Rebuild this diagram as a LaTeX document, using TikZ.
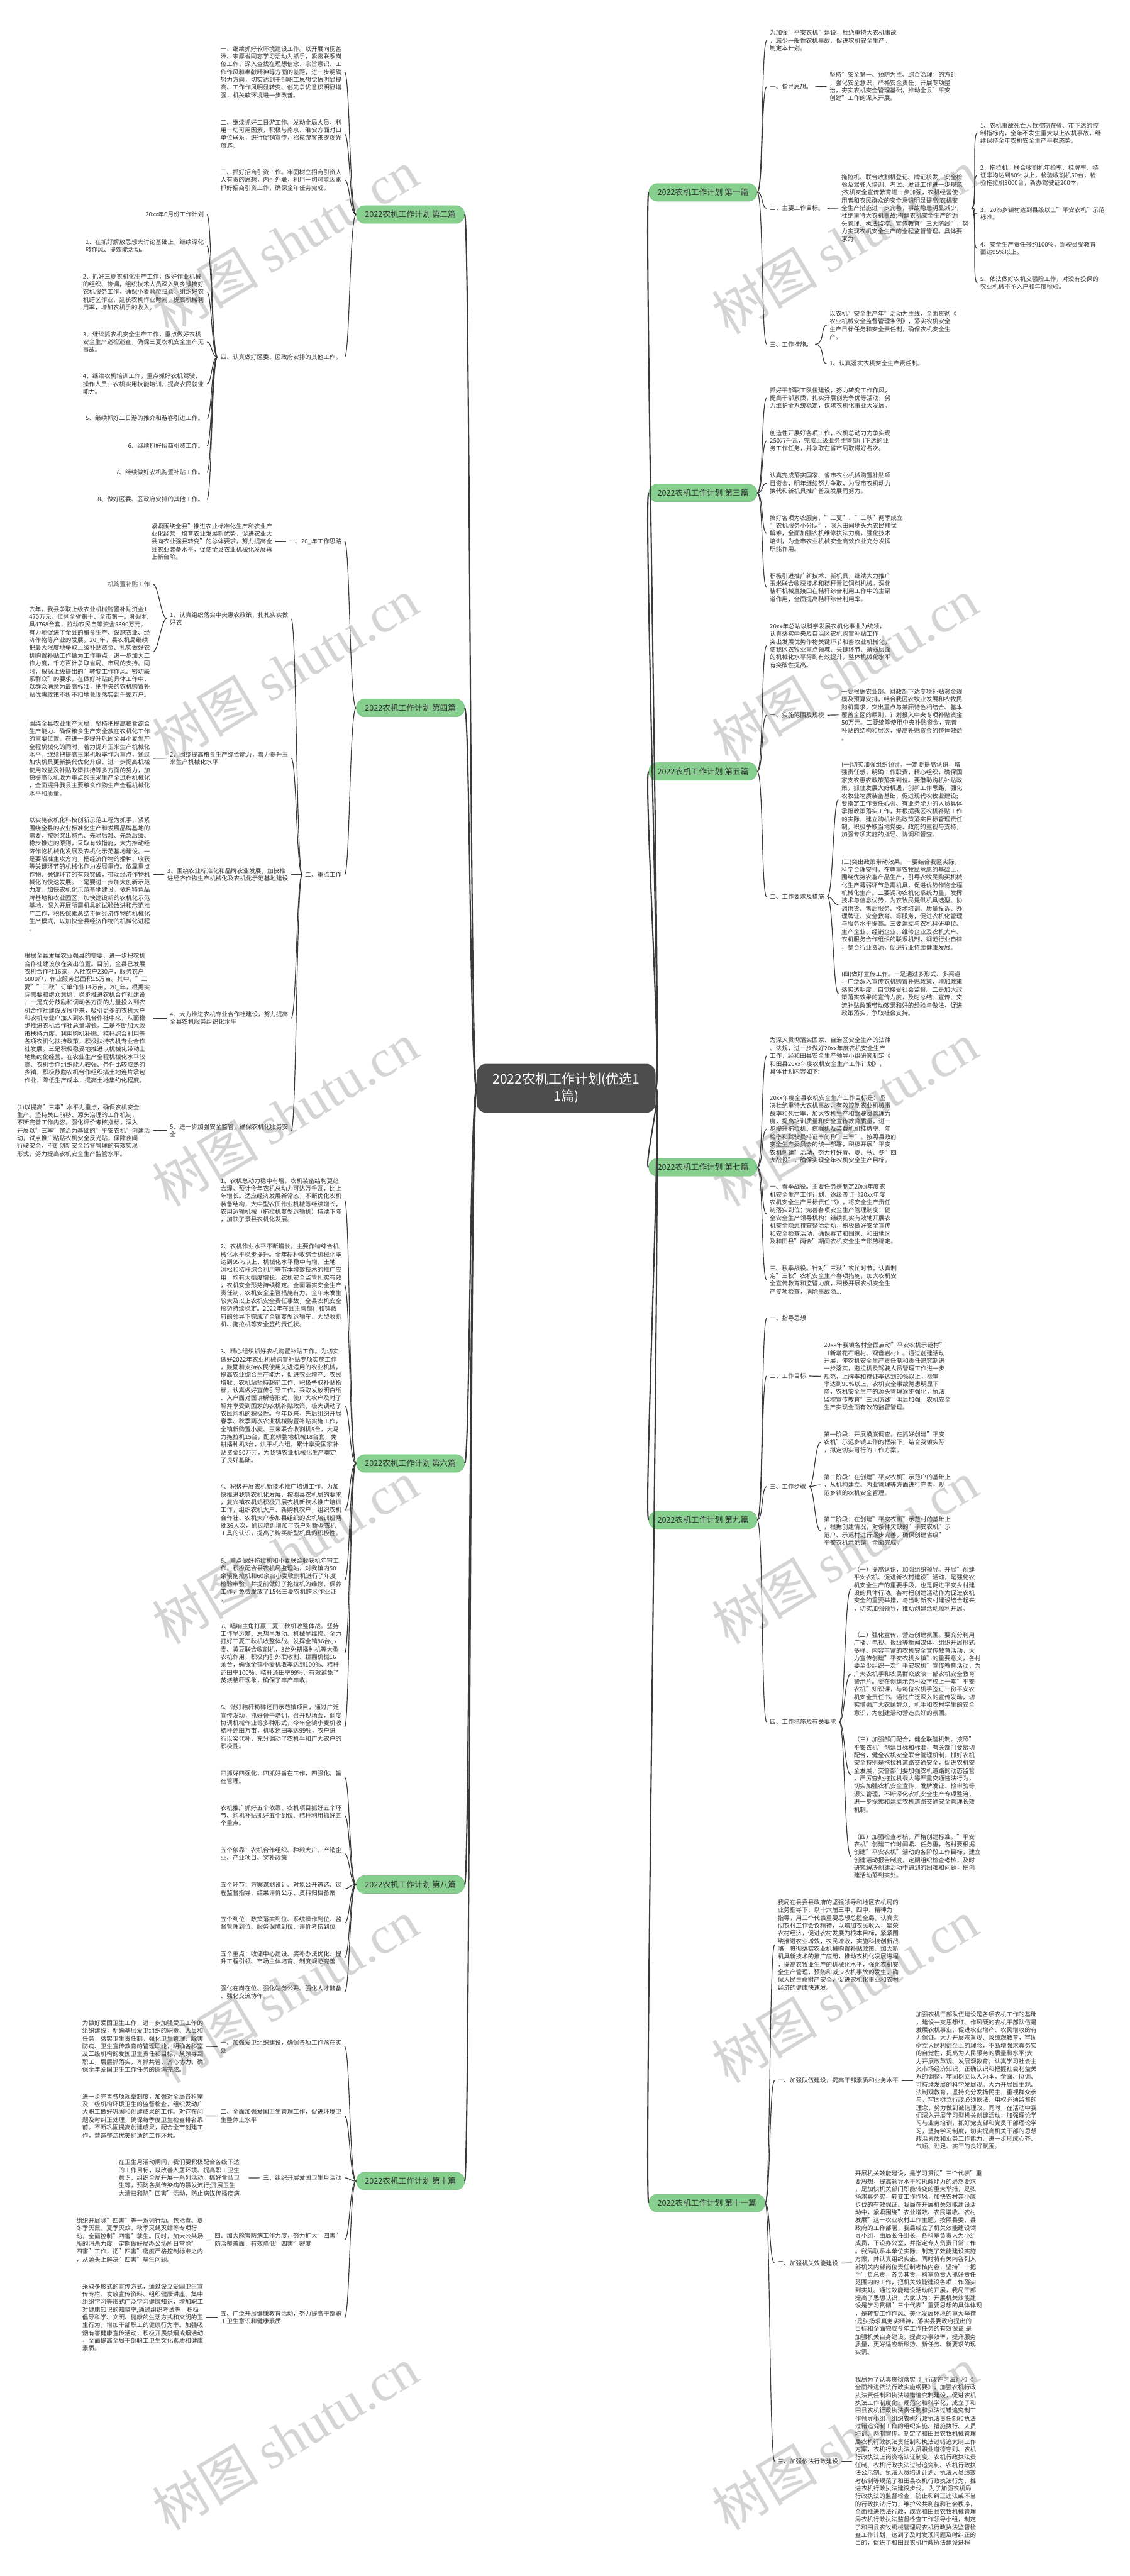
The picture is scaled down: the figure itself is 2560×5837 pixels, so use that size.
\documentclass[tikz,border=0pt]{standalone}
\usepackage{fontspec}
\setmainfont{Noto Sans CJK SC}
\newfontfamily\wmserif{Liberation Serif}
\definecolor{txtc}{HTML}{333333}
\definecolor{brf}{HTML}{86CF8F}
\definecolor{brd}{HTML}{72C07C}
\definecolor{cenf}{HTML}{4D4D4D}
\definecolor{linec}{HTML}{3A3A3A}
\definecolor{wmc}{HTML}{D4D4D4}
\newcommand\fs{\fontsize{13.7}{17.6}\selectfont}
\newcommand\lcon[4]{\draw[conn] (#1.west) .. controls +(-#3,0) and +(#4,0) .. (#2.east);}
\newcommand\rcon[4]{\draw[conn] (#1.east) .. controls +(#3,0) and +(-#4,0) .. (#2.west);}
\tikzset{
  lt/.style={font=\fs, align=left, inner sep=0pt, outer xsep=7pt, outer ysep=0pt, text=txtc},
  ltl/.style={lt, anchor=east},
  ltr/.style={lt, anchor=west},
  br/.style={draw=brd, line width=1pt, fill=brf, rounded corners=19pt, minimum height=40pt, inner xsep=19.5pt, inner ysep=0pt, font=\fontsize{18}{20}\selectfont, text=txtc},
  brl/.style={br, anchor=east},
  brr/.style={br, anchor=west},
  cen/.style={fill=cenf, rounded corners=22pt, text=white, align=center, font=\fontsize{30}{38}\selectfont, inner xsep=36pt, inner ysep=21pt},
  conn/.style={draw=linec, line width=1.7pt},
  mainc/.style={draw=linec, line width=3pt},
  wm/.style={text=wmc, rotate=31, inner sep=0pt, font=\fontsize{120}{120}\selectfont}
}
\begin{document}
\begin{tikzpicture}[x=1pt,y=-1pt]
\fill[white] (0,0) rectangle (2560,5837);
\useasboundingbox (0,0) rectangle (2560,5837);
% watermarks
\foreach \wy [count=\i] in {548,1518,2525,3517,4512,5525}{
  \node[wm] (wmL\i) at (647,\wy) {树图 {\wmserif shutu.cn}};
  \node[wm] (wmR\i) at (1914,\wy) {树图 {\wmserif shutu.cn}};
}
% center
\node[cen] (C) at (1283,2466) {2022农机工作计划(优选1\\1篇)};
% branches
\node[brl] (L2) at (1053,486) {2022农机工作计划 第二篇};
\node[brl] (L4) at (1053,1604) {2022农机工作计划 第四篇};
\node[brl] (L6) at (1053,3316) {2022农机工作计划 第六篇};
\node[brl] (L8) at (1053,4270) {2022农机工作计划 第八篇};
\node[brl] (L10) at (1053,4942) {2022农机工作计划 第十篇};
\node[brr] (R1) at (1470,436) {2022农机工作计划 第一篇};
\node[brr] (R3) at (1470,1117) {2022农机工作计划 第三篇};
\node[brr] (R5) at (1470,1748) {2022农机工作计划 第五篇};
\node[brr] (R7) at (1470,2645) {2022农机工作计划 第七篇};
\node[brr] (R9) at (1470,3444) {2022农机工作计划 第九篇};
\node[brr] (R11) at (1470,4992) {2022农机工作计划 第十一篇};
\foreach \b in {L2,L4,L6,L8,L10}{\draw[mainc] (C.west) .. controls +(-15,0) and +(12,0) .. (\b.east);}
\foreach \b in {R1,R3,R5,R7,R9,R11}{\draw[mainc] (C.east) .. controls +(15,0) and +(-12,0) .. (\b.west);}

% ===== 第二篇 =====
\node[ltl] (L2a) at (781,163.5) {一、继续抓好软环境建设工作。以开展向杨善\\洲、宋厚省同志学习活动为抓手，紧密联系岗\\位工作，深入查找在理想信念、宗旨意识、工\\作作风和奉献精神等方面的差距，进一步明确\\努力方向，切实达到干部职工思想觉悟明显提\\高、工作作风明显转变、创先争优意识明显增\\强，机关软环境进一步改善。};
\node[ltl] (L2b) at (781,303.7) {二、继续抓好二日游工作。发动全局人员，利\\用一切可用因素，积极与南京、淮安方面对口\\单位联系，进行促销宣传，招揽游客来枣观光\\旅游。};
\node[ltl] (L2c) at (781,408) {三、抓好招商引资工作。牢固树立招商引资人\\人有责的思想，内引外联，利用一切可能因素\\抓好招商引资工作，确保全年任务完成。};
\node[ltl] (L2d) at (781,809) {四、认真做好区委、区政府安排的其他工作。};
\foreach \c in {L2a,L2b,L2c,L2d}{\lcon{L2}{\c}{15}{12}}
\node[ltl] (L2d0) at (469,486) {20xx年6月份工作计划};
\node[ltl] (L2d1) at (469,557) {1、在抓好解放思想大讨论基础上，继续深化\\转作风、提效能活动。};
\node[ltl] (L2d2) at (469,661.7) {2、抓好三夏农机化生产工作，做好作业机械\\的组织、协调，组织技术人员深入到乡镇搞好\\农机服务工作，确保小麦颗粒归仓。组织好农\\机跨区作业，延长农机作业时间，提高机械利\\用率，增加农机手的收入。};
\node[ltl] (L2d3) at (469,775) {3、继续抓农机安全生产工作，重点做好农机\\安全生产巡检巡查，确保三夏农机安全生产无\\事故。};
\node[ltl] (L2d4) at (469,870) {4、继续农机培训工作，重点抓好农机驾驶、\\操作人员、农机实用技能培训，提高农民就业\\能力。};
\node[ltl] (L2d5) at (469,948) {5、继续抓好二日游的推介和游客引进工作。};
\node[ltl] (L2d6) at (469,1010) {6、继续抓好招商引资工作。};
\node[ltl] (L2d7) at (469,1070) {7、继续做好农机购置补贴工作。};
\node[ltl] (L2d8) at (469,1131.6) {8、做好区委、区政府安排的其他工作。};
\foreach \c in {L2d0,L2d1,L2d2,L2d3,L2d4,L2d5,L2d6,L2d7,L2d8}{\lcon{L2d}{\c}{13.6}{11}}

% ===== 第四篇 =====
\node[ltl] (L4a) at (781,1227) {一、20\_年工作思路};
\node[ltl] (L4a1) at (624,1227) {紧紧围绕全县"推进农业标准化生产和农业产\\业化经营，培育农业发展新优势，促进农业大\\县向农业强县转变"的总体要求，努力提高全\\县农业装备水平，促使全县农业机械化发展再\\上新台阶。};
\draw[conn] (L4a.west) -- (L4a1.east);
\node[ltl] (L4b) at (781,1981.5) {二、重点工作};
\lcon{L4}{L4a}{15}{12}
\lcon{L4}{L4b}{15}{12}
\node[ltl] (L4b1) at (660,1402) {1、认真组织落实中央惠农政策，扎扎实实做\\好农};
\node[ltl] (L4b2) at (660,1718) {2、围绕提高粮食生产综合能力，着力提升玉\\米生产机械化水平};
\node[ltl] (L4b3) at (660,1981.7) {3、围绕农业标准化和品牌农业发展，加快推\\进经济作物生产机械化及农机化示范基地建设};
\node[ltl] (L4b4) at (660,2307) {4、大力推进农机专业合作社建设，努力提高\\全县农机服务组织化水平};
\node[ltl] (L4b5) at (660,2562) {5、进一步加强安全监管，确保农机化服务安\\全};
\foreach \c in {L4b1,L4b2,L4b3,L4b4,L4b5}{\lcon{L4b}{\c}{13}{12}}
\node[ltl] (L4b1a) at (347,1324) {机购置补贴工作};
\node[ltl] (L4b1b) at (347,1477) {去年，我县争取上级农业机械购置补贴资金1\\470万元，位列全省第十、全市第一。补贴机\\具4768台套，拉动农民自筹资金5890万元。\\有力地促进了全县的粮食生产、设施农业、经\\济作物等产业的发展。20\_年，县农机局继续\\把最大限度地争取上级补贴资金、扎实做好农\\机购置补贴工作做为工作重点，进一步加大工\\作力度，千方百计争取省局、市局的支持。同\\时，根据上级提出的"转变工作作风、密切联\\系群众"的要求，在做好补贴的具体工作中，\\以群众满意为最高标准，把中央的农机购置补\\贴优惠政策不折不扣地兑现落实到千家万户。};
\lcon{L4b1}{L4b1a}{13}{12}
\lcon{L4b1}{L4b1b}{13}{12}
\node[ltl] (L4b2a) at (347,1718.5) {围绕全县农业生产大局，坚持把提高粮食综合\\生产能力、确保粮食生产安全放在农机化工作\\的重要位置。在进一步提升巩固全县小麦生产\\全程机械化的同时，着力提升玉米生产机械化\\水平。继续把提高玉米机收率作为重点，通过\\加快机具更新换代优化升级、进一步提高机械\\使用效益及补贴政策扶持等多方面的努力，加\\快提高以机收为重点的玉米生产全过程机械化\\，全面提升我县主要粮食作物生产全程机械化\\水平和质量。};
\draw[conn] (L4b2.west) -- (L4b2a.east);
\node[ltl] (L4b3a) at (347,1981.5) {以实施农机化科技创新示范工程为抓手，紧紧\\围绕全县的农业标准化生产和发展品牌基地的\\需要，按照突出特色、先易后难、先急后缓、\\稳步推进的原则，采取有效措施，大力推动经\\济作物机械化发展及农机化示范基地建设。一\\是要瞄准主攻方向，把经济作物的播种、收获\\等关键环节的机械化作为发展重点。依靠重点\\作物、关键环节的有效突破，带动经济作物机\\械化的快速发展。二是要进一步加大创新示范\\力度，加快农机化示范基地建设。依托特色品\\牌基地和农业园区，加快建设新的农机化示范\\基地，深入开展所需机具的试验改进和示范推\\广工作，积极探索总结不同经济作物的机械化\\生产模式，以加快全县经济作物的机械化进程\\。};
\draw[conn] (L4b3.west) -- (L4b3a.east);
\node[ltl] (L4b4a) at (347,2307) {根据全县发展农业强县的需要，进一步把农机\\合作社建设放在突出位置。目前，全县已发展\\农机合作社16家，入社农户230户，服务农户\\5800户，作业服务总面积15万亩。其中，"三\\夏""三秋"订单作业14万亩。20\_年，根据实\\际需要和群众意愿，稳步推进农机合作社建设\\。一是充分鼓励和调动各方面的力量投入到农\\机合作社建设发展中来，吸引更多的农机大户\\和农机专业户加入到农机合作社中来，从而稳\\步推进农机合作社总量增长。二是不断加大政\\策扶持力度。利用购机补贴、秸秆综合利用等\\各项农机化扶持政策，积极扶持农机专业合作\\社发展。三是积极稳妥地推进以机械化带动土\\地集约化经营。在农业生产全程机械化水平较\\高、农机合作组织能力较强、条件比较成熟的\\乡镇，积极鼓励农机合作组织搞土地连片承包\\作业，降低生产成本，提高土地集约化程度。};
\draw[conn] (L4b4.west) -- (L4b4a.east);
\node[ltl] (L4b5a) at (347,2561.5) {(1)以提高"三率"水平为重点，确保农机安全\\生产。坚持关口前移、源头治理的工作机制，\\不断完善工作内容，强化评价考核指标，深入\\开展以"三率"整治为基础的"平安农机"创建活\\动，试点推广粘贴农机安全反光贴，保障夜间\\行驶安全，不断创新安全监督管理的有效实现\\形式，努力提高农机安全生产监管水平。};
\draw[conn] (L4b5.west) -- (L4b5a.east);

% ===== 第六篇 =====
\node[ltl] (L6a) at (781,2719.5) {1、农机总动力稳中有增，农机装备结构更趋\\合理。预计今年农机总动力可达万千瓦，比上\\年增长。适应经济发展新常态，不断优化农机\\装备结构，大中型农田作业机械等继续增长，\\农用运输机械（拖拉机变型运输机）持续下降\\，加快了景县农机化发展。};
\node[ltl] (L6b) at (781,2912.7) {2、农机作业水平不断增长，主要作物综合机\\械化水平稳步提升。全年耕种收综合机械化率\\达到95\%以上，机械化水平稳中有增，土地\\深松和秸秆综合利用等节本增效技术的推广应\\用，均有大幅度增长。农机安全监管扎实有效\\，农机安全形势持续稳定。全面落实安全生产\\责任制，农机安全监管措施有力，全年未发生\\较大及以上农机安全责任事故，全县农机安全\\形势持续稳定。2022年在县主管部门和镇政\\府的领导下完成了全镇变型运输车、大型收割\\机、拖拉机等安全签约责任状。};
\node[ltl] (L6c) at (781,3185.6) {3、精心组织抓好农机购置补贴工作。为切实\\做好2022年农业机械购置补贴专项实施工作\\，鼓励和支持农民使用先进适用的农业机械，\\提高农业综合生产能力，促进农业增产、农民\\增收，农机站坚持超前工作，积极争取补贴指\\标，认真做好宣传引导工作，采取发放明白纸\\、入户面对面讲解等形式，使广大农户及时了\\解并享受到国家的农机补贴政策，极大调动了\\农民购机的积极性。今年以来，先后组织开展\\春季、秋季两次农业机械购置补贴实施工作，\\全镇新购置小麦、玉米联合收割机5台，大马\\力拖拉机15台，配套耕整地机械18台套，免\\耕播种机3台，烘干机六组，累计享受国家补\\贴资金50万元，为我镇农业机械化生产奠定\\了良好基础。};
\node[ltl] (L6d) at (781,3422) {4、积极开展农机新技术推广培训工作。为加\\快推进我镇农机化发展，按照县农机局的要求\\，复兴镇农机站积极开展农机新技术推广培训\\工作，组织农机大户、新购机农户，组织农机\\合作社、农机大户参加县组织的农机培训班两\\批36人次，通过培训增加了农户对新型农机\\工具的认识，提高了购买新型机具的积极性。};
\node[ltl] (L6e) at (781,3580) {6、重点做好拖拉机和小麦联合收获机年审工\\作。积极配合县农机局监理站，对我镇内50\\余辆拖拉机和60余台小麦收割机进行了年度\\检验审验，并提前做好了拖拉机的维修、保养\\工作，免费发放了15张三夏农机跨区作业证\\。};
\node[ltl] (L6f) at (781,3746) {7、唱响主角打赢三夏三秋机收整体战。坚持\\工作早运筹、思想早发动、机械早维修，全力\\打好三夏三秋机收整体战。发挥全镇86台小\\麦、黄豆联合收割机，3台免耕播种机等大型\\农机作用，积极内引外联收割、耕翻机械16\\余台，确保全镇小麦机收率达到100\%、秸秆\\还田率100\%，秸秆还田率99\%，有效避免了\\焚烧秸秆现象，确保了丰产丰收。};
\node[ltl] (L6g) at (781,3913) {8、做好秸秆粉碎还田示范镇项目，通过广泛\\宣传发动，抓好骨干培训，召开现场会，调度\\协调机械作业等多种形式，今年全镇小麦机收\\秸秆还田万亩，机收还田率达99\%，农户进\\行以奖代补，充分调动了农机手和广大农户的\\积极性。};
\foreach \c in {L6a,L6b,L6c,L6d,L6e,L6f,L6g}{\lcon{L6}{\c}{15}{12}}

% ===== 第八篇 =====
\node[ltl] (L8a) at (781,4027) {四抓好四强化，四抓好旨在工作，四强化，旨\\在管理。};
\node[ltl] (L8b) at (781,4114) {农机推广抓好五个依靠、农机项目抓好五个环\\节、购机补贴抓好五个到位、秸秆利用抓好五\\个重点。};
\node[ltl] (L8c) at (781,4200.6) {五个依靠：农机合作组织、种粮大户、产销企\\业、产业项目、奖补政策};
\node[ltl] (L8d) at (781,4279.7) {五个环节：方案谋划设计、对象公开遴选、过\\程监督指导、结果评价公示、资料归档备案};
\node[ltl] (L8e) at (781,4357.5) {五个到位：政策落实到位、系统操作到位、监\\督管理到位、服务保障到位、评价考核到位};
\node[ltl] (L8f) at (781,4436) {五个重点：收储中心建设、奖补办法优化、提\\升工程引领、市场主体培育、制度规范完善};
\node[ltl] (L8g) at (781,4514) {强化在岗在位、强化站务公开、强化人才储备\\、强化交流协作。};
\foreach \c in {L8a,L8b,L8c,L8d,L8e,L8f,L8g}{\lcon{L8}{\c}{15}{12}}

% ===== 第十篇 =====
\node[ltl] (L10a) at (781,4637.5) {一、加强爱卫组织建设，确保各项工作落在实\\处};
\node[ltl] (L10b) at (781,4794.4) {二、全面加强爱国卫生管理工作，促进环境卫\\生整体上水平};
\node[ltl] (L10c) at (781,4934.7) {三、组织开展爱国卫生月活动};
\node[ltl] (L10d) at (781,5075) {四、加大除害防病工作力度，努力扩大"四害"\\防治覆盖面，有效降低"四害"密度};
\node[ltl] (L10e) at (781,5251) {五、广泛开展健康教育活动，努力提高干部职\\工卫生意识和健康素质};
\foreach \c in {L10a,L10b,L10c,L10d,L10e}{\lcon{L10}{\c}{15}{12}}
\node[ltl] (L10a1) at (467.6,4637) {为做好爱国卫生工作，进一步加强爱卫工作的\\组织建设，明确基层爱卫组织的职责、人员和\\任务，落实卫生责任制，强化卫生管理、除害\\防病、卫生宣传教育的管理职能，明确各科室\\及二级机构的爱国卫生责任和目标，从领导到\\职工，层层抓落实，齐抓共管，齐心协力，确\\保全年爱国卫生工作任务的圆满完成。};
\draw[conn] (L10a.west) -- (L10a1.east);
\node[ltl] (L10b1) at (467.6,4794.6) {进一步完善各项规章制度，加强对全局各科室\\及二级机构环境卫生的监督检查，组织发动广\\大职工做好巩固和创建成果的工作。对存在问\\题及时纠正处理，确保每季度卫生检查排名靠\\前。不断巩固提高创建成果，配合全市创建工\\作，营造整洁优美舒适的工作环境。};
\draw[conn] (L10b.west) -- (L10b1.east);
\node[ltl] (L10c1) at (563.6,4935) {在卫生月活动期间，我们要积极配合各级下达\\的工作目标，以改善人居环境、提高职工卫生\\意识，组织全局开展一系列活动。搞好食品卫\\生等，预防各类传染病的暴发流行;开展卫生\\大清扫和除"四害"活动，防止病媒传播疾病。};
\draw[conn] (L10c.west) -- (L10c1.east);
\node[ltl] (L10d1) at (467.6,5075.5) {组织开展除"四害"等一系列行动。包括春、夏\\冬季灭鼠，夏季灭蚊，秋季灭蝇灭蟑等专项行\\动，全面控制"四害"孳生。同时，加大公共场\\所的消杀力度，定期做好局办公场所日常除"\\四害"工作，把"四害"密度严格控制标准之内\\，从源头上解决"四害"孳生问题。};
\draw[conn] (L10d.west) -- (L10d1.east);
\node[ltl] (L10e1) at (467.6,5251) {采取多形式的宣传方式，通过设立爱国卫生宣\\传专栏、发放宣传资料、组织健康讲座、集中\\组织学习等形式广泛学习健康知识，增加职工\\对健康知识的知晓率;通过组织考试等，积极\\倡导科学、文明、健康的生活方式和文明的卫\\生行为，增加干部职工的健康行为率。加强吸\\烟有害健康宣传活动，积极开展禁烟戒烟活动\\，全面提高全局干部职工卫生文化素质和健康\\素质。};
\draw[conn] (L10e.west) -- (L10e1.east);

% ===== 第一篇 =====
\node[ltr] (R1a) at (1737.5,92) {为加强"平安农机"建设，杜绝重特大农机事故\\，减少一般性农机事故，促进农机安全生产，\\制定本计划。};
\node[ltr] (R1b) at (1737.5,196.5) {一、指导思想。};
\node[ltr] (R1c) at (1737.5,472) {二、主要工作目标。};
\node[ltr] (R1d) at (1737.5,780) {三、工作措施。};
\foreach \c in {R1a,R1b,R1c,R1d}{\rcon{R1}{\c}{14}{12.5}}
\node[ltr] (R1b1) at (1873,196) {坚持"安全第一、预防为主、综合治理"的方针\\，强化安全意识，严格安全责任，开展专项整\\治，夯实农机安全管理基础，推动全县"平安\\创建"工作的深入开展。};
\draw[conn] (R1b.east) -- (R1b1.west);
\node[ltr] (R1c1) at (1900,471.5) {拖拉机、联合收割机登记、牌证核发、安全检\\验及驾驶人培训、考试、发证工作进一步规范\\;农机安全宣传教育进一步加强，农机经营使\\用者和农民群众的安全意识明显提高;农机安\\全生产措施进一步完善，事故隐患明显减少，\\杜绝重特大农机事故;构建农机安全生产的源\\头管理、执法监控、宣传教育"三大防线"，努\\力实现农机安全生产的全程监督管理。具体要\\求为：};
\draw[conn] (R1c.east) -- (R1c1.west);
\node[ltr] (R1c1a) at (2214.5,301.7) {1、农机事故死亡人数控制在省、市下达的控\\制指标内，全年不发生重大以上农机事故，继\\续保持全年农机安全生产平稳态势。};
\node[ltr] (R1c1b) at (2214.5,397.6) {2、拖拉机、联合收割机年检率、挂牌率、持\\证率均达到80\%以上，检验收割机50台，检\\验拖拉机3000台，新办驾驶证200本。};
\node[ltr] (R1c1c) at (2214.5,484.6) {3、20\%乡镇村达到县级以上"平安农机"示范\\标准。};
\node[ltr] (R1c1d) at (2214.5,563) {4、安全生产责任签约100\%，驾驶员受教育\\面达95\%以上。};
\node[ltr] (R1c1e) at (2214.5,641) {5、依法做好农机交强险工作，对没有投保的\\农业机械不予入户和年度检验。};
\foreach \c in {R1c1a,R1c1b,R1c1c,R1c1d,R1c1e}{\rcon{R1c1}{\c}{14}{12.5}}
\node[ltr] (R1d1) at (1873,737) {以农机"安全生产年"活动为主线，全面贯彻《\\农业机械安全监督管理条例》，落实农机安全\\生产目标任务和安全责任制，确保农机安全生\\产。};
\node[ltr] (R1d2) at (1873,824) {1、认真落实农机安全生产责任制。};
\foreach \c in {R1d1,R1d2}{\rcon{R1d}{\c}{22}{13}}

% ===== 第三篇 =====
\node[ltr] (R3a) at (1737.5,902) {抓好干部职工队伍建设，努力转变工作作风，\\提高干部素质，扎实开展创先争优等活动，努\\力维护全系统稳定，谋求农机化事业大发展。};
\node[ltr] (R3b) at (1737.5,999) {创造性开展好各项工作，农机总动力力争实现\\250万千瓦，完成上级业务主管部门下达的业\\务工作任务，并争取在省市局取得好名次。};
\node[ltr] (R3c) at (1737.5,1095) {认真完成落实国家、省市农业机械购置补贴项\\目资金，明年继续努力争取，为我市农机动力\\换代和新机具推广普及发展而努力。};
\node[ltr] (R3d) at (1737.5,1208.6) {搞好各项为农服务，"三夏"、"三秋"两季成立\\"农机服务小分队"，深入田间地头为农民排忧\\解难，全面加强农机维修执法力度，强化技术\\培训，为全市农业机械安全高效作业充分发挥\\职能作用。};
\node[ltr] (R3e) at (1737.5,1331) {积极引进推广新技术、新机具，继续大力推广\\玉米联合收获技术和秸秆青贮饲料机械。深化\\秸秆机械直接田在秸秆综合利用工作中的主渠\\道作用，全面提高秸秆综合利用率。};
\foreach \c in {R3a,R3b,R3c,R3d,R3e}{\rcon{R3}{\c}{14}{12.5}}

% ===== 第五篇 =====
\node[ltr] (R5a) at (1737.5,1463) {20xx年总站以科学发展农机化事业为统领，\\认真落实中央及自治区农机购置补贴工作，\\突出发展优势作物关键环节和畜牧业机械化，\\使我区农牧业重点领域、关键环节、薄弱层面\\的机械化水平得到有效提升，整体机械化水平\\有突破性提高。};
\node[ltr] (R5b) at (1737.5,1620.6) {一、实施范围及规模};
\node[ltr] (R5c) at (1737.5,2032) {二、工作要求及措施};
\foreach \c in {R5a,R5b,R5c}{\rcon{R5}{\c}{14}{12.5}}
\node[ltr] (R5b1) at (1900,1620) {一要根据农业部、财政部下达专项补贴资金规\\模及预算安排，结合我区农牧业发展和农牧民\\购机需求，突出重点与兼顾特色相结合、基本\\覆盖全区的原则，计划投入中央专项补贴资金\\50万元。二要统筹使用中央补贴资金，完善\\补贴的结构和层次，提高补贴资金的整体效益\\。};
\draw[conn] (R5b.east) -- (R5b1.west);
\node[ltr] (R5c1) at (1900,1812) {(一)切实加强组织领导。一定要提高认识，增\\强责任感，明确工作职责，精心组织，确保国\\家支农惠农政策落实到位。要借助购机补贴政\\策，抓住发展大好机遇，创新工作思路，强化\\农牧业物质装备基础，促进现代农牧业建设;\\要指定工作责任心强、有业务能力的人员具体\\承担政策落实工作，并根据我区农机补贴工作\\的实际，建立购机补贴政策落实目标管理责任\\制，积极争取当地党委、政府的重视与支持，\\加强专项实施的指导、协调和督查。};
\node[ltr] (R5c2) at (1900,2050) {(三)突出政策带动效果。一要结合我区实际，\\科学合理安排。在尊重农牧民意愿的基础上，\\围绕优势农畜产品生产，引导农牧民购买机械\\化生产薄弱环节急需机具，促进优势作物全程\\机械化生产。二要调动农机化系统力量，发挥\\技术与信息优势，为农牧民提供机具选型、协\\调供货、售后服务、技术培训、质量投诉、办\\理牌证、安全教育、等服务，促进农机化管理\\与服务水平提高。三要建立与农机科研单位、\\生产企业、经销企业、维修企业及农机大户、\\农机服务合作组织的联系机制，规范行业自律\\，整合行业资源，促进行业持续健康发展。};
\node[ltr] (R5c3) at (1900,2251.5) {(四)做好宣传工作。一是通过多形式、多渠道\\，广泛深入宣传农机购置补贴政策，增加政策\\落实透明度，自觉接受社会监督。二是加大政\\策落实效果的宣传力度，及时总结、宣传、交\\流补贴政策带动效果和好的经验与做法，促进\\政策落实，争取社会支持。};
\foreach \c in {R5c1,R5c2,R5c3}{\rcon{R5c}{\c}{13.6}{12.4}}

% ===== 第七篇 =====
\node[ltr] (R7a) at (1737.5,2392.6) {为深入贯彻落实国家、自治区安全生产的法律\\、法规，进一步做好20xx年度农机安全生产\\工作，经和田县安全生产领导小组研究制定《\\和田县20xx年度农机安全生产工作计划》，\\具体计划内容如下:};
\node[ltr] (R7b) at (1737.5,2558.5) {20xx年度全县农机安全生产工作目标是：坚\\决杜绝重特大农机事故，有效控制农业机械事\\故率和死亡率，加大农机生产和驾驶员管理力\\度，提高培训质量和安全宣传教育质量，进一\\步提升拖拉机、挖掘机及装载机机挂牌率、年\\检率和驾驶员持证率简称"三率"。按照县政府\\安全生产委员会的统一部署，积极开展"平安\\农机创建"活动，努力打好春、夏、秋、冬"四\\大战役"，确保实现全年农机安全生产目标。};
\node[ltr] (R7c) at (1737.5,2751) {一、春季战役。主要任务是制定20xx年度农\\机安全生产工作计划，逐级签订《20xx年度\\农机安全生产目标责任书》，将安全生产责任\\制落实到位；完善各项安全生产管理制度；健\\全安全生产领导机构；继续扎实有效地开展农\\机安全隐患排查整治活动；积极做好安全宣传\\和安全检查活动，确保春节和国家、和田地区\\及和田县"两会"期间农机安全生产形势稳定。};
\node[ltr] (R7d) at (1737.5,2900) {三、秋季战役。针对"三秋"农忙时节，认真制\\定"三秋"农机安全生产各项措施，加大农机安\\全宣传教育和监管力度，积极开展农机安全生\\产专项检查，消除事故隐...};
\foreach \c in {R7a,R7b,R7c,R7d}{\rcon{R7}{\c}{14}{12.5}}

% ===== 第九篇 =====
\node[ltr] (R9a) at (1737.5,2987) {一、指导思想};
\node[ltr] (R9b) at (1737.5,3118) {二、工作目标};
\node[ltr] (R9c) at (1737.5,3368.4) {三、工作步骤};
\node[ltr] (R9d) at (1737.5,3902) {四、工作措施及有关要求};
\foreach \c in {R9a,R9b,R9c,R9d}{\rcon{R9}{\c}{14}{12.5}}
\node[ltr] (R9b1) at (1860,3118.6) {20xx年我镇各村全面启动"平安农机示范村"\\（新增花石咀村、观音岩村）。通过创建活动\\开展，使农机安全生产责任制和责任追究制进\\一步落实，拖拉机及驾驶人员管理工作进一步\\规范，上牌率和持证率达到90\%以上，检审\\率达到90\%以上，农机安全事故隐患明显下\\降，农机安全生产的源头管理逐步强化，执法\\监控宣传教育"三大防线"明显加强，农机安全\\生产实现全面有效的监督管理。};
\draw[conn] (R9b.east) -- (R9b1.west);
\node[ltr] (R9c1) at (1860,3268) {第一阶段：开展摸底调查，在抓好创建"平安\\农机"示范乡镇工作的框架下，结合我镇实际\\，拟定切实可行的工作方案。};
\node[ltr] (R9c2) at (1860,3364.7) {第二阶段：在创建"平安农机"示范户的基础上\\，从机构建立、内业管理等方面进行完善，规\\范乡镇的农机安全管理。};
\node[ltr] (R9c3) at (1860,3469) {第三阶段：在创建"平安农机"示范村的基础上\\，根据创建情况，对条件欠缺的"平安农机"示\\范户、示范村进行逐步完善，确保创建省级"\\平安农机示范镇"全面完成。};
\foreach \c in {R9c1,R9c2,R9c3}{\rcon{R9c}{\c}{12.3}{14}}
\node[ltr] (R9d1) at (1928,3600.5) {（一）提高认识，加强组织领导。开展"创建\\平安农机、促进新农村建设"活动，是强化农\\机安全生产的重要手段，也是促进平安乡村建\\设的具体行动。各村把创建活动作为促进农机\\安全的重要举措，与当时新农村建设结合起来\\，切实加强领导，推动创建活动顺利开展。};
\node[ltr] (R9d2) at (1928,3793) {（二）强化宣传，营造创建氛围。要充分利用\\广播、电视、报纸等新闻媒体，组织开展形式\\多样、内容丰富的农机安全宣传教育活动，大\\力宣传创建"平安农机乡镇"的重要意义，各村\\要至少组织一次"平安农机"宣传教育活动，为\\广大农机手和农民群众放映一部农机安全教育\\警示片。要在创建示范村及学校上一堂"平安\\农机"知识课，与每位农机手签订一份平安农\\机安全责任书。通过广泛深入的宣传发动，切\\实增强广大农民群众、机手和农村学生的安全\\意识，为创建活动营造良好的氛围。};
\node[ltr] (R9d3) at (1928,4021) {（三）加强部门配合，健全联管机制。按照"\\平安农机"创建目标和标准，有关部门要密切\\配合，健全农机安全联合管理机制，抓好农机\\安全特别是拖拉机道路交通安全，促进农机安\\全发展，交警部门要加强农机道路的动态监管\\，严厉查处拖拉机载人等严重交通违法行为，\\切实加强农机安全宣传，发牌发证、检审验等\\源头管理，不断深化农机安全生产专项整治，\\进一步探索和建立农机道路交通安全管理长效\\机制。};
\node[ltr] (R9d4) at (1928,4205.7) {（四）加强检查考核，严格创建标准。"平安\\农机"创建工作时间紧、任务重，各村要根据\\创建"平安农机"活动的各阶段工作目标，建立\\创建活动报告制度，定期组织检查考核，及时\\研究解决创建活动中遇到的困难和问题，把创\\建活动落到实处。};
\foreach \c in {R9d1,R9d2,R9d3,R9d4}{\rcon{R9d}{\c}{12}{14}}

% ===== 第十一篇 =====
\node[ltr] (R11a) at (1755.5,4407) {我局在县委县政府的坚强领导和地区农机局的\\业务指导下，以十六届三中、四中、精神为\\指导，用三个代表重要思想总揽全局，认真贯\\彻农村工作会议精神，以增加农民收入，繁荣\\农村经济，促进农村发展为根本目标，紧紧围\\绕推进农业增效，农民增收，实施科技创新战\\略，贯彻落实农业机械购置补贴政策，加大新\\机具新技术的推广应用，推动农机化发展进程\\，提高农牧业生产的机械化水平，强化农机安\\全生产管理，预防和减少农机事故的发生，确\\保人民生命财产安全，促进农机化事业和农村\\经济的健康快速发。};
\node[ltr] (R11b) at (1755.5,4714.3) {一、加强队伍建设，提高干部素质和业务水平};
\node[ltr] (R11c) at (1755.5,5128) {二、加强机关效能建设};
\node[ltr] (R11d) at (1755.5,5577) {三、加强依法行政建设};
\foreach \c in {R11a,R11b,R11c,R11d}{\rcon{R11}{\c}{12}{12.5}}
\node[ltr] (R11b1) at (2068.6,4714.3) {加强农机干部队伍建设是各项农机工作的基础\\，建设一支思想红、作风硬的农机干部队伍是\\发展农机事业，促进农业增产、农民增收的有\\力保证。大力开展宗旨观、政绩观教育，牢固\\树立人民利益至上的理念，不断增强求真务实\\的自觉性，提高为人民服务的质量和水平;大\\力开展改革观、发展观教育，认真学习社会主\\义市场经济知识，正确认识和把握社会利益关\\系的调整，牢固树立以人为本，全面、协调、\\可持续发展的科学发展观。大力开展民主观、\\法制观教育，坚持充分发扬民主，重视群众参\\与，牢固树立行政必须依法、用权必须监督的\\理念，努力做到诚信理政。同时，在活动中我\\们深入开展学习型机关创建活动，加强理论学\\习与业务培训，抓好党支部和党员干部理论学\\习，坚持学习制度，切实提高机关干部的思想\\政治素质和业务工作能力，进一步形成心齐、\\气顺、劲足、实干的良好氛围。};
\draw[conn] (R11b.east) -- (R11b1.west);
\node[ltr] (R11c1) at (1931,5127.5) {开展机关效能建设，是学习贯彻"三个代表"重\\要思想，提高领导水平和执政能力的必然要求\\，是加快机关部门职能转变的重大举措，是弘\\扬求真务实，转变工作作风，加快农村奔小康\\步伐的有效保证。我局在开展机关效能建设活\\动中，紧紧围绕"农业增效、农民增收、农村\\发展"这一农业农村工作主题，按照县委、县\\政府的工作部署，我局成立了机关效能建设领\\导小组，由局长任组长，各科室负责人为小组\\成员，下设办公室，并指定专人负责日常工作\\。我局联系本单位实际，制定了效能建设实施\\方案，并认真组织实施。同时将有关内容列入\\部机关内部岗位责任制考核内容，坚持"一把\\手"负总责，各负其责，科室负责人抓好责任\\范围内的工作，把机关效能建设各项工作落实\\到实处。通过效能建设活动的开展，我局干部\\提高了思想认识，大家认为：开展机关效能建\\设是学习贯彻"三个代表"重要思想的具体体现\\，是转变工作作风、美化发展环境的重大举措\\;是弘扬求真务实精神，落实县委政府提出的\\目标和全面完成今年工作任务的有效保证;是\\加强机关自身建设，提高办事效率，提升服务\\质量，更好适应新形势、新任务、新要求的现\\实需。};
\draw[conn] (R11c.east) -- (R11c1.west);
\node[ltr] (R11d1) at (1931,5577) {我局为了认真贯彻落实《\_行政许可法》和《\\全面推进依法行政实施纲要》，加强农机行政\\执法责任制和执法过错追究制建设，促进农机\\执法工作制度化、规范化和科学化，成立了和\\田县农机行政执法责任制和执法过错追究制工\\作领导小组，组织农机行政执法责任制和执法\\过错追究制工作的组织实施、措施执行、人员\\培训、两制宣传。制定了和田县农牧机械管理\\局农机行政执法责任制和执法过错追究制工作\\方案，农机行政执法人员职业道德守则、农机\\行政执法上岗资格认证制度、农机行政执法责\\任制、农机行政执法过错追究制、农机行政执\\法公示制、执法人员培训计划、执法人员绩效\\考核制等规范了和田县农机行政执法行为，推\\进农机行政执法建设步伐。 为了加强农机局\\行政执法的监督检查，防止和纠正违法或不当\\的行政执法行为，维护公共利益和社会秩序，\\全面推进依法行政，成立和田县农牧机械管理\\局农机行政执法监督检查工作领导小组，制定\\了和田县农牧机械管理局农机行政执法监督检\\查工作计划，达到了及时发现问题及时纠正的\\目的，促进了和田县农机行政执法建设进程};
\draw[conn] (R11d.east) -- (R11d1.west);
\end{tikzpicture}
\end{document}
